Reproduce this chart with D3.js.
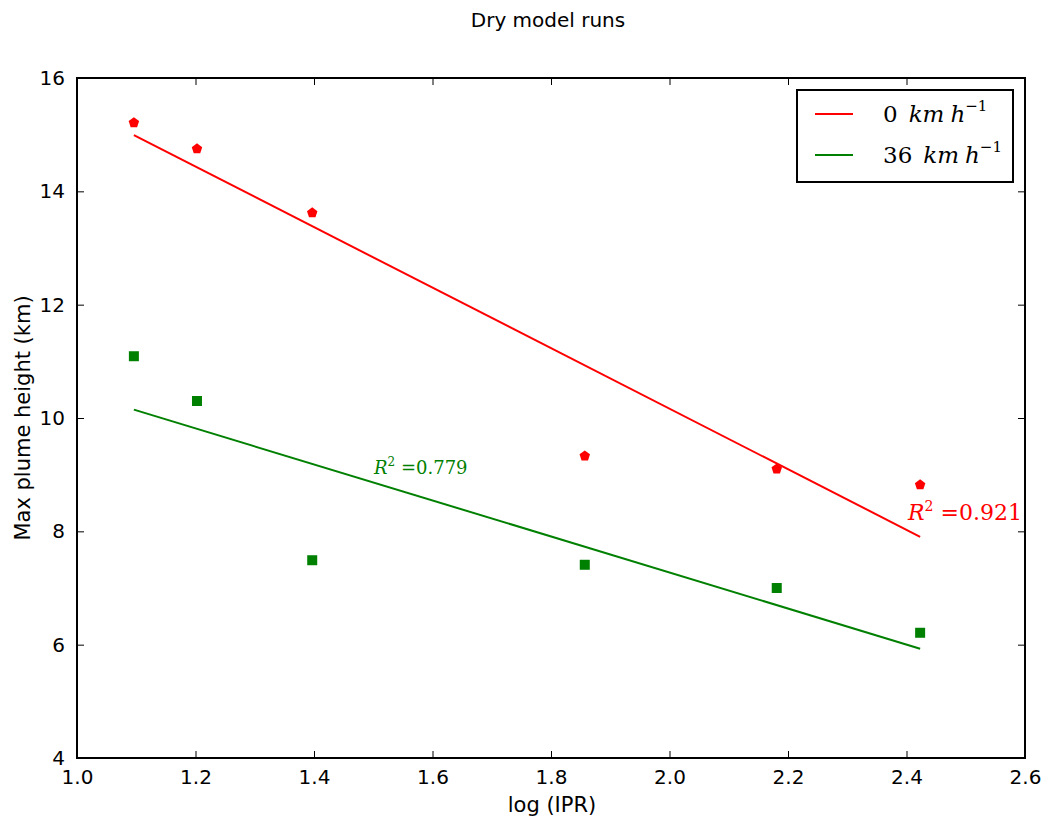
<!DOCTYPE html>
<html>
<head>
<meta charset="utf-8">
<script src="https://cdn.jsdelivr.net/npm/d3@7"></script>
<style>
  body { margin: 0; background: #fff; }
  text { font-family: 'DejaVu Sans', sans-serif; }
  .serif { font-family: 'DejaVu Serif', 'Liberation Serif', serif; }
</style>
</head>
<body>
<svg width="1046" height="821"></svg>
<script>
// Data
const logIPR = [1.096, 1.2025, 1.397, 1.857, 2.181, 2.423];
const height0 = [15.21, 14.75, 13.62, 9.33, 9.10, 8.82];
const height36 = [11.09, 10.30, 7.49, 7.41, 7.00, 6.21];
const xTicks = [1.0, 1.2, 1.4, 1.6, 1.8, 2.0, 2.2, 2.4, 2.6];
const yTicks = [4, 6, 8, 10, 12, 14, 16];

const svg = d3.select('svg'),
  width = +svg.attr('width'),
  height = +svg.attr('height');

const mLeft = 77, mRight = 1025, mTop = 78, mBottom = 758;

const x = d3.scaleLinear().domain([1.0, 2.6]).range([mLeft, mRight]);
const y = d3.scaleLinear().domain([4, 16]).range([mBottom, mTop]);

// least squares fit
function fit(xs, ys) {
  const mx = d3.mean(xs), my = d3.mean(ys);
  const sxy = d3.sum(xs, (v, i) => (v - mx) * (ys[i] - my));
  const sxx = d3.sum(xs, v => (v - mx) * (v - mx));
  const b = sxy / sxx;
  return v => my + b * (v - mx);
}

// title
svg.append('text')
  .attr('x', 548).attr('y', 27)
  .attr('text-anchor', 'middle')
  .style('font-size', '20px')
  .text('Dry model runs');

// axes, ticks pointing inward
const tickLen = 7;
const axB = d3.axisBottom(x).tickValues(xTicks).tickFormat(d3.format('.1f')).tickSizeInner(-tickLen).tickSizeOuter(0).tickPadding(12);
const axT = d3.axisTop(x).tickValues(xTicks).tickFormat('').tickSizeInner(-tickLen).tickSizeOuter(0);
const axL = d3.axisLeft(y).tickValues(yTicks).tickFormat(d3.format('d')).tickSizeInner(-tickLen).tickSizeOuter(0).tickPadding(12);
const axR = d3.axisRight(y).tickValues(yTicks).tickFormat('').tickSizeInner(-tickLen).tickSizeOuter(0);

const gB = svg.append('g').attr('transform', `translate(0,${mBottom})`).call(axB);
const gT = svg.append('g').attr('transform', `translate(0,${mTop})`).call(axT);
const gL = svg.append('g').attr('transform', `translate(${mLeft},0)`).call(axL);
const gR = svg.append('g').attr('transform', `translate(${mRight},0)`).call(axR);
[gB, gT, gL, gR].forEach(g => {
  g.select('.domain').remove();
  g.selectAll('line').attr('stroke', '#000').attr('stroke-width', 1);
  g.selectAll('text').style('font-size', '20px').attr('fill', '#000').style('font-family', "'DejaVu Sans', sans-serif");
});
gB.selectAll('text').attr('dy', '0.71em');

// frame
svg.append('rect')
  .attr('x', mLeft).attr('y', mTop)
  .attr('width', mRight - mLeft).attr('height', mBottom - mTop)
  .attr('fill', 'none').attr('stroke', '#000').attr('stroke-width', 2);

// axis labels
svg.append('text')
  .attr('x', 552).attr('y', 812)
  .attr('text-anchor', 'middle')
  .style('font-size', '21px')
  .text('log (IPR)');
svg.append('text')
  .attr('transform', `translate(30,${(mTop + mBottom) / 2}) rotate(-90)`)
  .attr('text-anchor', 'middle')
  .style('font-size', '21px')
  .text('Max plume height (km)');

// fit lines
const f0 = fit(logIPR, height0);
const f36 = fit(logIPR, height36);
const x0 = d3.min(logIPR), x1 = d3.max(logIPR);
svg.append('line')
  .attr('x1', x(x0)).attr('y1', y(f0(x0)))
  .attr('x2', x(x1)).attr('y2', y(f0(x1)))
  .attr('stroke', '#ff0000').attr('stroke-width', 2);
svg.append('line')
  .attr('x1', x(x0)).attr('y1', y(f36(x0)))
  .attr('x2', x(x1)).attr('y2', y(f36(x1)))
  .attr('stroke', '#008000').attr('stroke-width', 2);

// markers
function pentPath(r) {
  const pts = d3.range(5).map(i => {
    const a = -Math.PI / 2 + i * 2 * Math.PI / 5;
    return [r * Math.cos(a), r * Math.sin(a)];
  });
  return 'M' + pts.map(p => p.join(',')).join('L') + 'Z';
}
svg.append('g').selectAll('path')
  .data(logIPR)
  .join('path')
  .attr('d', pentPath(5.5))
  .attr('transform', (d, i) => `translate(${x(d)},${y(height0[i])})`)
  .attr('fill', '#ff0000');

svg.append('g').selectAll('rect')
  .data(logIPR)
  .join('rect')
  .attr('x', d => x(d) - 5)
  .attr('y', (d, i) => y(height36[i]) - 5)
  .attr('width', 10).attr('height', 10)
  .attr('fill', '#008000');

// R^2 labels
const r1 = svg.append('text').attr('class', 'serif')
  .attr('x', 374).attr('y', 474)
  .attr('fill', '#008000').style('font-size', '18px');
r1.append('tspan').style('font-style', 'italic').text('R');
r1.append('tspan').attr('dy', -8).style('font-size', '12px').text('2');
r1.append('tspan').attr('dy', 8).text(' =0.779');

const r2 = svg.append('text').attr('class', 'serif')
  .attr('x', 908).attr('y', 520)
  .attr('fill', '#ff0000').style('font-size', '22px');
r2.append('tspan').style('font-style', 'italic').text('R');
r2.append('tspan').attr('dy', -9).style('font-size', '14px').text('2');
r2.append('tspan').attr('dy', 9).text(' =0.921');

// legend
const lg = svg.append('g');
lg.append('rect')
  .attr('x', 797).attr('y', 90)
  .attr('width', 216).attr('height', 92)
  .attr('fill', '#fff').attr('stroke', '#000').attr('stroke-width', 2);
const entries = [
  { label: '0', color: '#ff0000', yy: 114 },
  { label: '36', color: '#008000', yy: 155 }
];
entries.forEach(e => {
  lg.append('line')
    .attr('x1', 815).attr('x2', 853)
    .attr('y1', e.yy).attr('y2', e.yy)
    .attr('stroke', e.color).attr('stroke-width', 2);
  const t = lg.append('text').attr('class', 'serif')
    .attr('x', 883).attr('y', e.yy + 8)
    .style('font-size', '23px').attr('fill', '#000');
  t.append('tspan').text(e.label);
  t.append('tspan').attr('dx', 11).style('font-style', 'italic').text('km');
  t.append('tspan').attr('dx', 6).style('font-style', 'italic').text('h');
  t.append('tspan').attr('dy', -11).style('font-size', '15px').text('−1');
});
</script>
</body>
</html>
